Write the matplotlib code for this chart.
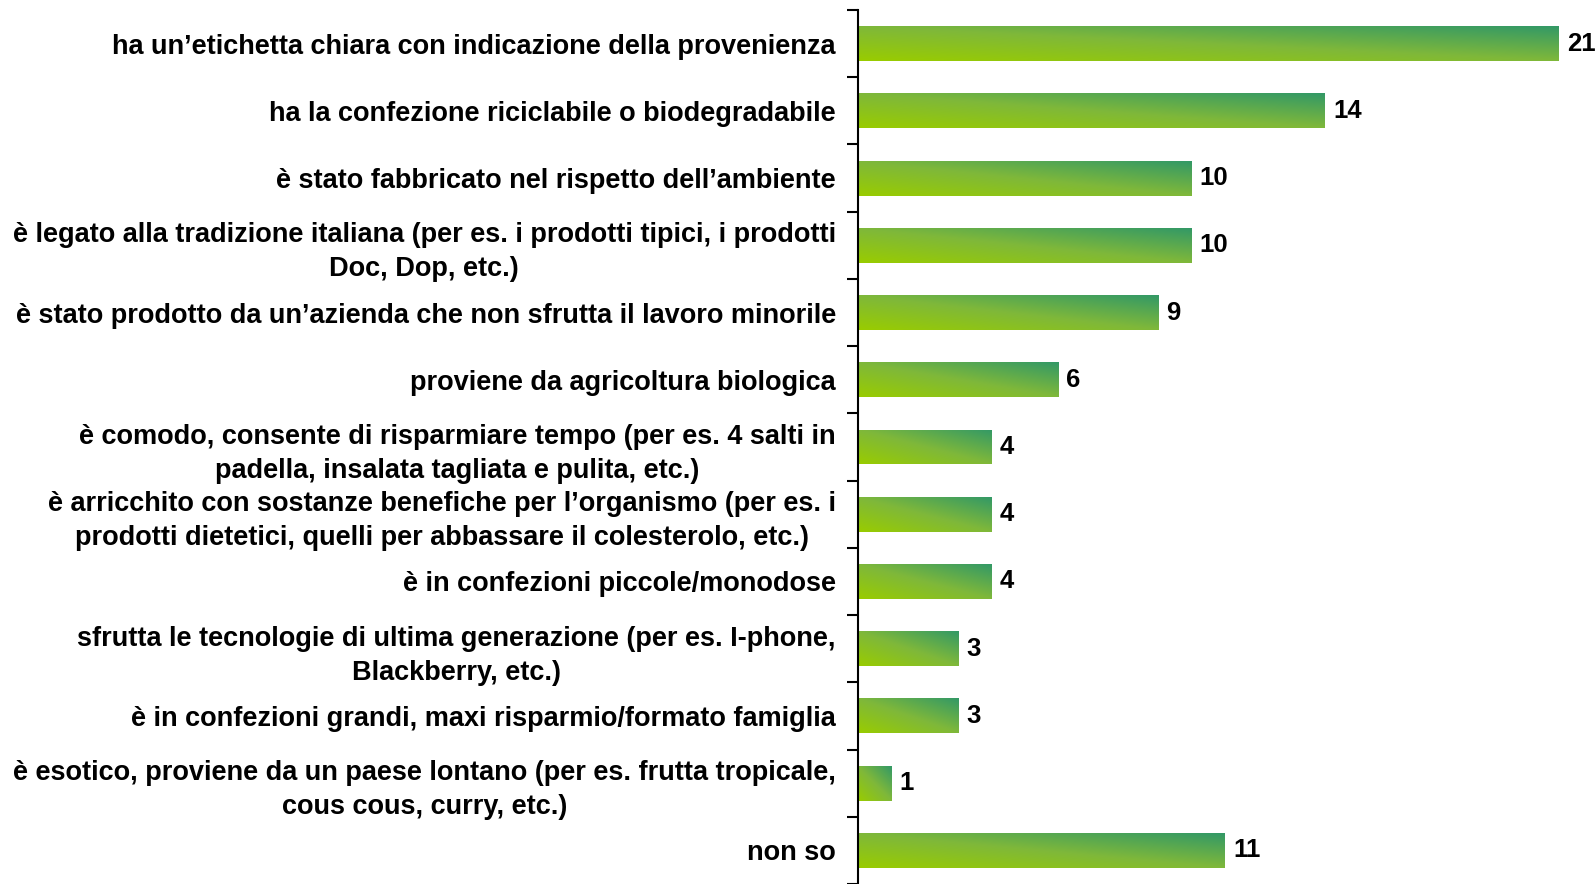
import matplotlib
matplotlib.use("Agg")
import matplotlib.pyplot as plt
import numpy as np
from matplotlib.colors import LinearSegmentedColormap
from matplotlib.patches import Rectangle

plt.rcParams["font.family"] = ["Liberation Sans", "DejaVu Sans"]
plt.rcParams["font.weight"] = "bold"

CATEGORIES = [
    "ha un’etichetta chiara con indicazione della provenienza",
    "ha la confezione riciclabile o biodegradabile",
    "è stato fabbricato nel rispetto dell’ambiente",
    "è legato alla tradizione italiana (per es. i prodotti tipici, i prodotti\nDoc, Dop, etc.)",
    "è stato prodotto da un’azienda che non sfrutta il lavoro minorile",
    "proviene da agricoltura biologica",
    "è comodo, consente di risparmiare tempo (per es. 4 salti in\npadella, insalata tagliata e pulita, etc.)",
    "è arricchito con sostanze benefiche per l’organismo (per es. i\nprodotti dietetici, quelli per abbassare il colesterolo, etc.)",
    "è in confezioni piccole/monodose",
    "sfrutta le tecnologie di ultima generazione (per es. I-phone,\nBlackberry, etc.)",
    "è in confezioni grandi, maxi risparmio/formato famiglia",
    "è esotico, proviene da un paese lontano (per es. frutta tropicale,\ncous cous, curry, etc.)",
    "non so",
]
VALUES = [21, 14, 10, 10, 9, 6, 4, 4, 4, 3, 3, 1, 11]

BAR_HEIGHT = 0.52
grad_cmap = LinearSegmentedColormap.from_list(
    "bar_grad", ["#99cc00", "#7fb83a", "#339966"]
)

fig = plt.figure(figsize=(15.95, 8.84), dpi=100)
ax = fig.add_axes([858 / 1595, 0.0, 1 - 858 / 1595, 874 / 884])

n = len(CATEGORIES)
y_pos = np.arange(n)

# diagonal gradient in bar-local coordinates (bottom-left -> top-right)
gx, gy = np.meshgrid(np.linspace(0, 1, 200), np.linspace(0, 1, 40))
grad = (gx + gy) / 2

for y, val in zip(y_pos, VALUES):
    bottom = y + BAR_HEIGHT / 2
    top = y - BAR_HEIGHT / 2
    img = ax.imshow(
        grad,
        cmap=grad_cmap,
        extent=[0, val, bottom, top],
        origin="lower",
        aspect="auto",
        interpolation="bicubic",
        vmin=0,
        vmax=1,
        zorder=2,
    )
    clip = Rectangle((0, top), val, BAR_HEIGHT, transform=ax.transData,
                     facecolor="none", edgecolor="none")
    ax.add_patch(clip)
    img.set_clip_path(clip)
    ax.text(val + 0.25, y, str(val), va="center", ha="left",
            fontsize=18.5, fontweight="bold", color="black")

ax.set_xlim(0, 22.1)
ax.set_ylim(n - 0.5, -0.5)

ax.set_yticks(y_pos)
ax.set_yticklabels(CATEGORIES, fontsize=19.5, fontweight="bold",
                   multialignment="center", linespacing=1.4)
ax.tick_params(axis="y", which="major", length=0, pad=16)
ax.set_yticks(np.arange(-0.5, n, 1.0), minor=True)
ax.tick_params(axis="y", which="minor", length=8, width=1.5, direction="out")
ax.set_xticks([])

for side in ["top", "right", "bottom"]:
    ax.spines[side].set_visible(False)
ax.spines["left"].set_linewidth(1.5)

fig.savefig("out.png", dpi=100)
